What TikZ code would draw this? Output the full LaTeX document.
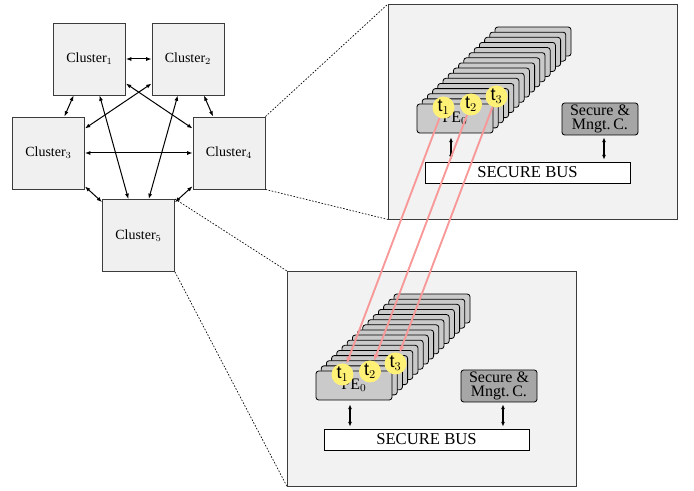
\documentclass[tikz,border=0pt]{standalone}
\usepackage{fontspec}
\setmainfont{Liberation Serif}
\setsansfont{Liberation Sans}
\usetikzlibrary{arrows.meta}

\definecolor{panelgray}{HTML}{F2F2F2}
\definecolor{clustergray}{HTML}{F0F0F0}
\definecolor{pegray}{HTML}{CACACA}
\definecolor{ctrlgray}{HTML}{A6A6A6}
\definecolor{tokenyellow}{HTML}{FFF176}
\definecolor{linkred}{HTML}{F89898}
\definecolor{edgegray}{HTML}{3C3C3C}

\tikzset{
  cluster/.style={draw=edgegray, fill=clustergray, line width=0.7pt,
    minimum width=54pt, minimum height=54pt, inner sep=0pt,
    font=\fontsize{10.5}{12}\selectfont},
  panel/.style={draw=edgegray, fill=panelgray, line width=0.7pt,
    minimum width=216.75pt, minimum height=160.9pt, inner sep=0pt},
  pebox/.style={draw=black, fill=pegray, rounded corners=2pt, line width=0.6pt,
    minimum width=57pt, minimum height=21.75pt, inner sep=0pt,
    font=\fontsize{12}{14}\selectfont},
  ctrlbox/.style={draw=black, fill=ctrlgray, rounded corners=2pt, line width=0.6pt,
    minimum width=57pt, minimum height=24pt, inner sep=0pt, align=center,
    font=\fontsize{12}{10}\selectfont},
  busbox/.style={draw=black, fill=white, line width=0.6pt,
    minimum width=153.75pt, minimum height=15.75pt, inner sep=0pt,
    font=\fontsize{12.5}{14}\selectfont},
  token/.style={circle, fill=tokenyellow, minimum size=16.5pt, inner sep=0pt,
    font=\fontsize{13.5}{15}\sffamily},
  link/.style={<->, >={Latex[length=4pt,width=3pt]}, line width=0.75pt},
  busarrow/.style={<->, >={Latex[length=3.5pt,width=3pt]}, line width=0.8pt},
  tokenlink/.style={->, >={Latex[length=5pt,width=4pt]}, draw=linkred, line width=1.4pt},
  zoomline/.style={draw=black, line width=0.5pt, dash pattern=on 1.2pt off 1.2pt},
}

% contents of one enlarged cluster, drawn relative to its top-left corner
\newcommand\panelcontents{%
  \node[panel, anchor=north west] (box) at (0,0) {};
  \foreach \k in {15,14,...,1} {
    \node[pebox] (pe\k) at ({67+5.2*\k},{114.5-5.13*\k}) {};
  }
  \node[pebox] (pe0) at (67,114.5) {PE$_0$};
  \node[ctrlbox] (ctrl) at (212,115) {Secure \&\\Mngt.\,C.};
  \node[busbox] (bus) at (139.5,168.5) {SECURE BUS};
  \draw[busarrow, shorten <=3pt, shorten >=1.5pt]
    ([xshift=-3pt]pe0.south) -- ([xshift=-3pt]pe0.south |- bus.north);
  \draw[busarrow, shorten <=1.5pt, shorten >=1.5pt]
    ([xshift=3pt]ctrl.south) -- ([xshift=3pt]ctrl.south |- bus.north);
  \node[token] (t1) at (55.5,103.5) {t$_1$};
  \node[token] (t2) at (83,100.5) {t$_2$};
  \node[token] (t3) at (108.5,92.5) {t$_3$};
}

\begin{document}
\begin{tikzpicture}[x=0.75pt, y=-0.75pt]
  \useasboundingbox (0,0) rectangle (694,491);

  % the five clusters
  \node[cluster] (c1) at (89.5,59)    {Cluster$_1$};
  \node[cluster] (c2) at (188,59)     {Cluster$_2$};
  \node[cluster] (c3) at (48.5,153)   {Cluster$_3$};
  \node[cluster] (c4) at (229,153)    {Cluster$_4$};
  \node[cluster] (c5) at (138.5,235.5){Cluster$_5$};

  % full mesh between clusters
  \foreach \a/\b in {c1/c2, c1/c3, c1/c4, c1/c5, c2/c3, c2/c4, c2/c5, c3/c4, c3/c5, c4/c5}
    \draw[link] (\a) -- (\b);

  % enlarged views of cluster 4 and cluster 5
  \begin{scope}[shift={(388,4)}, name prefix=u-]
    \panelcontents
  \end{scope}
  \begin{scope}[shift={(287,271)}, name prefix=l-]
    \panelcontents
  \end{scope}

  \draw[zoomline] (c4.north east) -- (u-box.north west);
  \draw[zoomline] (c4.south east) -- (u-box.south west);
  \draw[zoomline] (c5.north east) -- (l-box.north west);
  \draw[zoomline] (c5.south east) -- (l-box.south west);

  % tasks moved between the two clusters
  \draw[tokenlink] (u-t1) -- (l-t1);
  \draw[tokenlink] (u-t2) -- (l-t2);
  \draw[tokenlink] (u-t3) -- (l-t3);
\end{tikzpicture}
\end{document}
